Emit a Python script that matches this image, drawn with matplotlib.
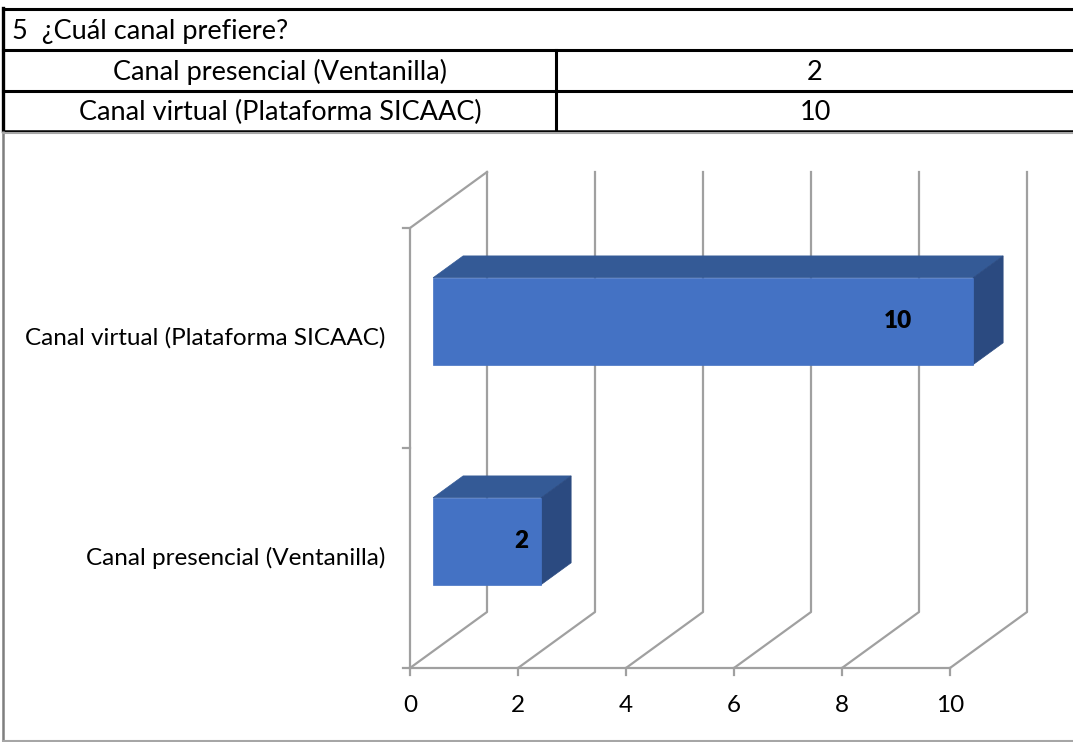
import matplotlib
matplotlib.use("Agg")
import matplotlib.pyplot as plt
from matplotlib.patches import Polygon
from matplotlib.lines import Line2D

# datos
pregunta = "5  ¿Cuál canal prefiere?"
categorias = ["Canal presencial (Ventanilla)", "Canal virtual (Plataforma SICAAC)"]
valores = [2, 10]
ticks_x = [0, 2, 4, 6, 8, 10]

W, H = 1073, 742
fig = plt.figure(figsize=(W / 100, H / 100), dpi=100)
fig.patch.set_facecolor("white")
plt.rcParams['font.family'] = ['Lato', 'DejaVu Sans']

# tabla de arriba (coordenadas en pixeles de la figura)
def fx(px):
    return px / W

def fy(py):
    return 1 - py / H

negro = "#000000"
for y in [9, 50, 91]:
    fig.add_artist(Line2D([fx(3), fx(1073)], [fy(y), fy(y)], color=negro, lw=2.2))
fig.add_artist(Line2D([fx(3), fx(1073)], [fy(131), fy(131)], color=negro, lw=1.8))
fig.add_artist(Line2D([fx(3), fx(3)], [fy(8), fy(131)], color=negro, lw=2.4))
fig.add_artist(Line2D([fx(556), fx(556)], [fy(50), fy(131)], color=negro, lw=2.2))
# marco del grafico
gris_marco = "#a6a6a6"
fig.add_artist(Line2D([fx(3), fx(3)], [fy(132), fy(741)], color="#7f7f7f", lw=1.8))
fig.add_artist(Line2D([fx(3), fx(1073)], [fy(741), fy(741)], color=gris_marco, lw=1.5))
fig.add_artist(Line2D([fx(3), fx(1073)], [fy(133), fy(133)], color=gris_marco, lw=1.5))

fs_tabla = 19.5
fig.text(fx(12), fy(31), pregunta, fontsize=fs_tabla, va="center", ha="left")
for i, (cat, val) in enumerate(zip(categorias, valores)):
    yc = [72, 112][i]
    fig.text(fx(280), fy(yc), cat, fontsize=fs_tabla, va="center", ha="center")
    fig.text(fx(815), fy(yc), str(val), fontsize=fs_tabla, va="center", ha="center")

# grafico 3D oblicuo
ax = fig.add_axes([0, 0, 1, 1])
sx, sy = 54.0, 220.0          # pixeles por unidad
x0_px, y0_px = 410, 742 - 668  # origen
ax.set_xlim(-x0_px / sx, (W - x0_px) / sx)
ax.set_ylim(-y0_px / sy, (H - y0_px) / sy)
ax.axis("off")

DX, DY = 77 / sx, 56 / sy  # desplazamiento de profundidad


def proy(v, c, d):
    return (v + d * DX, c + d * DY)


gris = "#a0a0a0"
lw = 1.6
ncat = len(categorias)
vmax = ticks_x[-1]
fs_ejes = 17.5

# pared izquierda
ax.plot(*zip(proy(0, 0, 0), proy(0, ncat, 0), proy(0, ncat, 1)), color=gris, lw=lw)
# piso frontal
ax.plot(*zip(proy(0, 0, 0), proy(vmax, 0, 0)), color=gris, lw=lw)
# lineas de cuadricula piso + pared trasera
for t in ticks_x:
    ax.plot(*zip(proy(t, 0, 0), proy(t, 0, 1), proy(t, ncat, 1)), color=gris, lw=lw)
    ax.plot([t, t], [0, -7 / sy], color=gris, lw=lw)
    ax.text(t, -37 / sy, str(t), fontsize=fs_ejes, ha="center", va="center")
for c in range(ncat + 1):
    ax.plot([-7 / sx, 0], [c, c], color=gris, lw=lw)
for i, cat in enumerate(categorias):
    ax.text(-25 / sx, i + 0.5, cat, fontsize=fs_ejes, ha="right", va="center")

# barras
c_frente = "#4472c4"
c_arriba = "#345a96"
c_lado = "#2b4a80"
d0, d1 = 0.30, 0.69
alto = 0.395
for i, v in enumerate(valores):
    cb, ct = i + 0.5 - alto / 2, i + 0.5 + alto / 2
    frente = [proy(0, cb, d0), proy(v, cb, d0), proy(v, ct, d0), proy(0, ct, d0)]
    arriba = [proy(0, ct, d0), proy(v, ct, d0), proy(v, ct, d1), proy(0, ct, d1)]
    lado = [proy(v, cb, d0), proy(v, cb, d1), proy(v, ct, d1), proy(v, ct, d0)]
    for pts, col in [(arriba, c_arriba), (lado, c_lado), (frente, c_frente)]:
        ax.add_patch(Polygon(pts, closed=True, facecolor=col, edgecolor=col, lw=0.5, zorder=3))
    lx, ly = proy(v * 0.87 - 0.1, i + 0.5, d0)
    ax.text(lx, ly, str(v), fontsize=fs_ejes, fontweight="heavy", ha="center", va="center", zorder=4)

fig.savefig("out.png", dpi=100)
